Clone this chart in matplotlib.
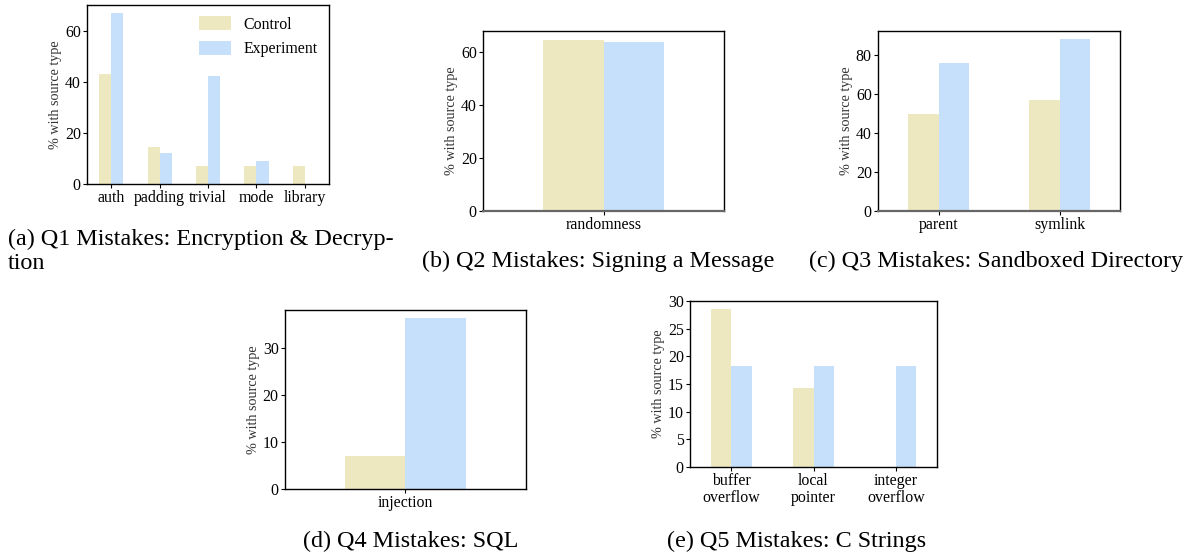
import matplotlib
matplotlib.use("Agg")
from matplotlib import pyplot as plt
import numpy as np

plt.rcParams['font.family'] = ['Liberation Serif', 'DejaVu Serif']

control_color = '#ede8c0'
experiment_color = '#c6e0fc'

q1_cats = ['auth', 'padding', 'trivial', 'mode', 'library']
q1_control = [42.9, 14.3, 7.1, 7.1, 7.1]
q1_experiment = [66.7, 12.1, 42.4, 9.1, 0.0]

q2_cats = ['randomness']
q2_control = [64.7]
q2_experiment = [63.9]

q3_cats = ['parent', 'symlink']
q3_control = [50.0, 57.1]
q3_experiment = [75.9, 88.2]

q4_cats = ['injection']
q4_control = [7.1]
q4_experiment = [36.4]

q5_cats = ['buffer\noverflow', 'local\npointer', 'integer\noverflow']
q5_control = [28.6, 14.3, 0.0]
q5_experiment = [18.2, 18.2, 18.2]

captions = ['(a) Q1 Mistakes: Encryption & Decryp-\ntion',
            '(b) Q2 Mistakes: Signing a Message',
            '(c) Q3 Mistakes: Sandboxed Directory',
            '(d) Q4 Mistakes: SQL',
            '(e) Q5 Mistakes: C Strings']

fig = plt.figure(figsize=(11.84, 5.59), dpi=100)

panels = [
    ([0.0735, 0.671, 0.2044, 0.320], q1_cats, q1_control, q1_experiment, 70, [0, 20, 40, 60]),
    ([0.408, 0.6225, 0.2035, 0.322], q2_cats, q2_control, q2_experiment, 68, [0, 20, 40, 60]),
    ([0.7416, 0.6225, 0.2044, 0.322], q3_cats, q3_control, q3_experiment, 92.5, [0, 20, 40, 60, 80]),
    ([0.2407, 0.1252, 0.2035, 0.320], q4_cats, q4_control, q4_experiment, 38.1, [0, 10, 20, 30]),
    ([0.5828, 0.1646, 0.2086, 0.297], q5_cats, q5_control, q5_experiment, 30, [0, 5, 10, 15, 20, 25, 30]),
]

w = 0.25
axes = []
for rect, cats, ctrl, expt, ytop, yt in panels:
    ax = fig.add_axes(rect)
    x = np.arange(len(cats))
    ax.bar(x - w / 2, ctrl, w, color=control_color, label='Control')
    ax.bar(x + w / 2, expt, w, color=experiment_color, label='Experiment')
    ax.set_xlim(-0.5, len(cats) - 0.5)
    ax.set_ylim(0, ytop)
    ax.set_yticks(yt)
    ax.set_xticks(x)
    ax.set_xticklabels(cats, linespacing=1.05)
    ax.tick_params(labelsize=11.4, length=3, pad=1.5)
    ax.set_ylabel('% with source type', fontsize=10.2, color='#333333', labelpad=2)
    for s in ax.spines.values():
        s.set_linewidth(1.0)
    axes.append(ax)

# grey-ish zero line as in the original b and c panels
for ax in (axes[1], axes[2]):
    ax.spines['bottom'].set_color('#666666')
    ax.spines['bottom'].set_linewidth(1.6)

axes[0].legend(loc='upper right', frameon=False, fontsize=11.4, handlelength=2.0,
               handleheight=1.0, borderaxespad=0.3)

cap_kw = dict(fontsize=17.4, va='top')
fig.text(8 / 1184, 1 - 229 / 559, captions[0], ha='left', linespacing=1.2, **cap_kw)
fig.text(598 / 1184, 1 - 251 / 559, captions[1], ha='center', **cap_kw)
fig.text(996 / 1184, 1 - 251 / 559, captions[2], ha='center', **cap_kw)
fig.text(411 / 1184, 1 - 531 / 559, captions[3], ha='center', **cap_kw)
fig.text(797 / 1184, 1 - 531 / 559, captions[4], ha='center', **cap_kw)

fig.savefig('out.png', dpi=100)
